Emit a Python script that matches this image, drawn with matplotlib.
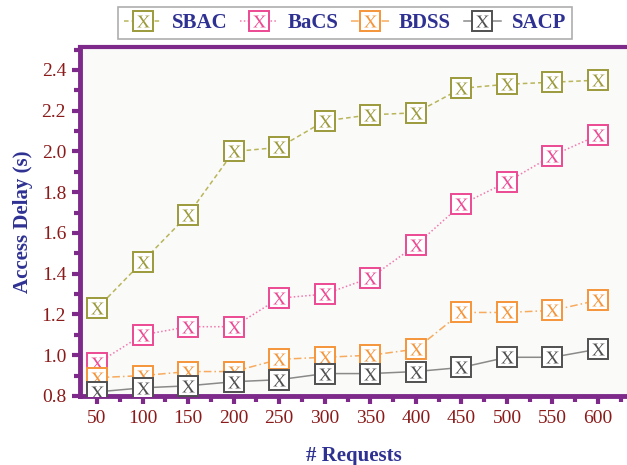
import matplotlib
matplotlib.use("Agg")
import matplotlib.pyplot as plt
from matplotlib.lines import Line2D
from matplotlib.legend_handler import HandlerTuple
from matplotlib.ticker import MultipleLocator, FormatStrFormatter

# access delay vs number of requests
requests = [50, 100, 150, 200, 250, 300, 350, 400, 450, 500, 550, 600]
sbac = [1.23, 1.46, 1.69, 2.00, 2.02, 2.15, 2.18, 2.19, 2.31, 2.33, 2.34, 2.35]
bacs = [0.96, 1.10, 1.14, 1.14, 1.28, 1.30, 1.38, 1.54, 1.74, 1.85, 1.98, 2.08]
bdss = [0.89, 0.90, 0.92, 0.92, 0.98, 0.99, 1.00, 1.03, 1.21, 1.21, 1.22, 1.27]
sacp = [0.82, 0.84, 0.85, 0.87, 0.88, 0.91, 0.91, 0.92, 0.94, 0.99, 0.99, 1.03]

names = ["SBAC", "BaCS", "BDSS", "SACP"]
colors = ["#9c9a3c", "#ec4a93", "#f5953a", "#505050"]
linecolors = ["#b8b55a", "#f07ab0", "#f7ab5e", "#8a8a8a"]
styles = [(0, (3, 2)), (0, (1, 1.5)), (0, (5, 2, 1, 2)), "-"]

plt.rcParams["mathtext.fontset"] = "stix"
purple = "#7d2a8a"

fig = plt.figure(figsize=(6.27, 4.65), dpi=100)
fig.patch.set_facecolor("white")
ax = fig.add_axes([0.1276, 0.1484, 0.8724, 0.7506])
ax.set_facecolor("#fafaf8")

handles = []
for i, (name, ys) in enumerate(zip(names, [sbac, bacs, bdss, sacp])):
    z = 3 + i
    ax.plot(requests, ys, color=linecolors[i], linestyle=styles[i], lw=1.1, zorder=z)
    ax.plot(requests, ys, linestyle="none", marker="s", ms=14, mfc="white",
            mec=colors[i], mew=1.4, zorder=z)
    ax.plot(requests, ys, linestyle="none", marker=r"$\mathrm{X}$", ms=9,
            color=colors[i], mew=0, zorder=z)
    h1 = Line2D([], [], color=linecolors[i], linestyle=styles[i], lw=1.1,
                marker="s", ms=14, mfc="white", mec=colors[i], mew=1.4)
    h2 = Line2D([], [], linestyle="none", marker=r"$\mathrm{X}$", ms=9,
                color=colors[i], mew=0)
    handles.append((h1, h2))

ax.set_xlim(31.3, 631.8)
ax.set_ylim(0.8, 2.513)
ax.set_xticks(requests)
ax.yaxis.set_major_locator(MultipleLocator(0.2))
ax.yaxis.set_minor_locator(MultipleLocator(0.1))
ax.xaxis.set_minor_locator(MultipleLocator(25))
ax.yaxis.set_major_formatter(FormatStrFormatter("%.1f"))

for s in ["left", "bottom"]:
    ax.spines[s].set_color(purple)
    ax.spines[s].set_linewidth(3.5)
ax.spines["top"].set_color(purple)
ax.spines["top"].set_linewidth(3)
ax.spines["right"].set_visible(False)

ax.tick_params(which="major", direction="out", length=6, width=3, color=purple,
               labelcolor="#8b1a1a", labelsize=14, pad=4)
ax.tick_params(which="minor", direction="out", length=4, width=3, color=purple)
for lab in ax.get_xticklabels() + ax.get_yticklabels():
    lab.set_family("Liberation Serif")

ax.set_xlabel("# Requests", family="Liberation Serif", fontweight="bold",
              fontsize=15, color="#2e3192", labelpad=14)
ax.set_ylabel("Access Delay (s)", family="Liberation Serif", fontweight="bold",
              fontsize=15, color="#2e3192", labelpad=6)

leg = fig.legend(handles, names, loc="center", bbox_to_anchor=(0.55, 0.95),
                 ncol=4, handler_map={tuple: HandlerTuple(ndivide=1)},
                 prop={"family": "Liberation Serif", "weight": "bold", "size": 15},
                 frameon=True, fancybox=False, edgecolor="#999999",
                 handlelength=1.8, handletextpad=0.5, columnspacing=0.6,
                 borderpad=0.3, borderaxespad=0)
for t in leg.get_texts():
    t.set_color("#2e3192")
leg.get_frame().set_linewidth(1.2)

fig.savefig("out.png", dpi=100)
